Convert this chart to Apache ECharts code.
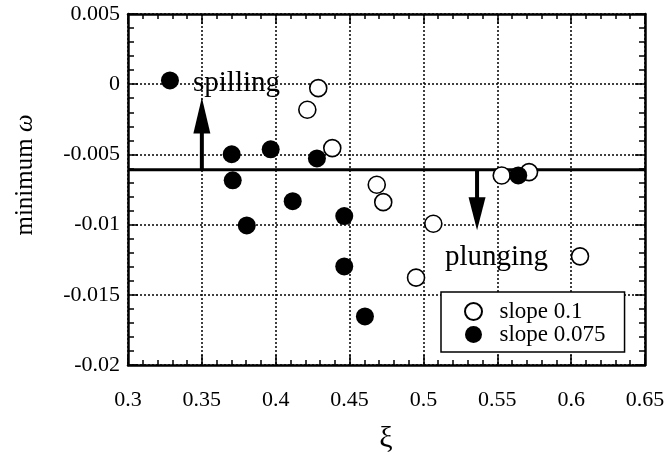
<!DOCTYPE html>
<html>
<head>
<meta charset="utf-8">
<script src="https://cdn.jsdelivr.net/npm/echarts@6/dist/echarts.min.js"></script>
<style>html,body{margin:0;padding:0;background:#fff;}#chart{width:670px;height:459px;}</style>
</head>
<body>
<div id="chart"></div>
<script>
// ---- data ----
var xTicks = [0.3, 0.35, 0.4, 0.45, 0.5, 0.55, 0.6, 0.65];
var yTicks = [-0.02, -0.015, -0.01, -0.005, 0, 0.005];
var openXi = [0.4288, 0.4214, 0.4383, 0.4684, 0.4728, 0.5067, 0.4950, 0.6060, 0.5530, 0.5715];
var openOmega = [-0.00028, -0.00182, -0.00455, -0.00716, -0.00840, -0.00994, -0.01378, -0.01226, -0.00650, -0.00626];
var filledXi = [0.3284, 0.3702, 0.3709, 0.3966, 0.4279, 0.4115, 0.3804, 0.4464, 0.4464, 0.4604, 0.5642];
var filledOmega = [0.00027, -0.00499, -0.00685, -0.00464, -0.00529, -0.00833, -0.01006, -0.00939, -0.01298, -0.01654, -0.00650];
var threshold = -0.0061;
var upArrowX = 0.35, upArrowTip = -0.00094, upHeadCenter = -0.00223;
var downArrowX = 0.5363, downArrowTip = -0.0104, downHeadCenter = -0.00922;
var seriesNames = ['slope 0.1', 'slope 0.075'];
var notes = [{text: 'spilling', x: 0.344, y: 0.00005}, {text: 'plunging', x: 0.5146, y: -0.01235}];

function zip(a, b) { return a.map(function (v, i) { return [v, b[i]]; }); }

var FONT = '"Liberation Serif", "Times New Roman", serif';
var xMin = xTicks[0], xMax = xTicks[xTicks.length - 1];
var yMin = yTicks[0], yMax = yTicks[yTicks.length - 1];

function makeX(pos, labels) {
  return {
    type: 'value', position: pos, min: xMin, max: xMax, interval: 0.05,
    axisLine: {show: true, onZero: false, lineStyle: {color: '#000', width: 2.5}},
    axisTick: {show: true, inside: true, length: 10, lineStyle: {color: '#000', width: 1.5}},
    minorTick: {show: true, splitNumber: 5, length: 5, lineStyle: {color: '#000', width: 1.5}},
    splitLine: {show: labels, lineStyle: {type: [2, 2], color: '#000', width: 1.5}},
    axisLabel: {show: labels, margin: 24, color: '#000', fontSize: 22, fontFamily: FONT,
      formatter: function (v) { return String(+v.toFixed(2)); }}
  };
}
function makeY(pos, labels) {
  return {
    type: 'value', position: pos, min: yMin, max: yMax, interval: 0.005,
    axisLine: {show: true, onZero: false, lineStyle: {color: '#000', width: 2.5}},
    axisTick: {show: true, inside: true, length: 10, lineStyle: {color: '#000', width: 1.5}},
    minorTick: {show: true, splitNumber: 5, length: 6, lineStyle: {color: '#000', width: 1.5}},
    splitLine: {show: labels, lineStyle: {type: [2, 2], color: '#000', width: 1.5}},
    axisLabel: {show: labels, margin: 8, color: '#000', fontSize: 22, fontFamily: FONT,
      formatter: function (v) { return String(+v.toFixed(3)); }}
  };
}

var chart = echarts.init(document.getElementById('chart'), null, {renderer: 'canvas'});
chart.setOption({
  animation: false,
  backgroundColor: '#fff',
  grid: {left: 128, right: 25, top: 14, bottom: 94, containLabel: false},
  xAxis: [makeX('bottom', true), makeX('top', false)],
  yAxis: [makeY('left', true), makeY('right', false)],
  legend: {
    data: seriesNames, orient: 'vertical', left: 441, top: 292,
    backgroundColor: '#fff', borderColor: '#000', borderWidth: 1.5, borderRadius: 0,
    padding: [8, 19, 6, 23], itemWidth: 42, itemHeight: 17, itemGap: 0,
    textStyle: {color: '#000', fontSize: 23, fontFamily: FONT, lineHeight: 23}
  },
  graphic: [{
    type: 'text', x: 25, y: 175, rotation: Math.PI / 2,
    style: {text: 'minimum {w|ω}', fontSize: 25, fontFamily: FONT, fill: '#000',
      align: 'center', verticalAlign: 'middle',
      rich: {w: {fontSize: 25, fontFamily: FONT, fontStyle: 'italic', fill: '#000'}}}
  }, {
    type: 'text', x: 386, y: 439,
    style: {text: 'ξ', fontSize: 30, fontFamily: FONT, fill: '#000', align: 'center', verticalAlign: 'middle'}
  }],
  series: [
    {name: 'threshold', type: 'line', data: [[xMin, threshold], [xMax, threshold]], symbol: 'none',
      lineStyle: {color: '#000', width: 3}, z: 3, silent: true},
    {name: 'upShaft', type: 'line', data: [[upArrowX, threshold], [upArrowX, upHeadCenter]], symbol: 'none',
      lineStyle: {color: '#000', width: 4}, z: 3},
    {name: 'downShaft', type: 'line', data: [[downArrowX, threshold], [downArrowX, downHeadCenter]], symbol: 'none',
      lineStyle: {color: '#000', width: 4}, z: 3},
    {name: 'upHead', type: 'scatter', data: [[upArrowX, upHeadCenter]], symbol: 'triangle', symbolSize: [17, 36],
      itemStyle: {color: '#000', opacity: 1}, z: 3},
    {name: 'downHead', type: 'scatter', data: [[downArrowX, downHeadCenter]], symbol: 'triangle', symbolSize: [17, 33],
      symbolRotate: 180, itemStyle: {color: '#000', opacity: 1}, z: 3},
    {name: seriesNames[0], type: 'scatter', data: zip(openXi, openOmega), symbol: 'circle', symbolSize: 17,
      itemStyle: {color: '#fff', borderColor: '#000', borderWidth: 1.6, opacity: 1}, z: 4},
    {name: seriesNames[1], type: 'scatter', data: zip(filledXi, filledOmega), symbol: 'circle', symbolSize: 18,
      itemStyle: {color: '#000', opacity: 1}, z: 5},
    {name: 'notes', type: 'scatter', symbolSize: 0, z: 6, itemStyle: {opacity: 1},
      data: notes.map(function (n) { return {value: [n.x, n.y], name: n.text}; }),
      label: {show: true, position: 'inside', align: 'left', verticalAlign: 'middle',
        formatter: function (p) { return p.name; }, color: '#000', fontSize: 29, fontFamily: FONT}}
  ]
});
</script>
</body>
</html>
